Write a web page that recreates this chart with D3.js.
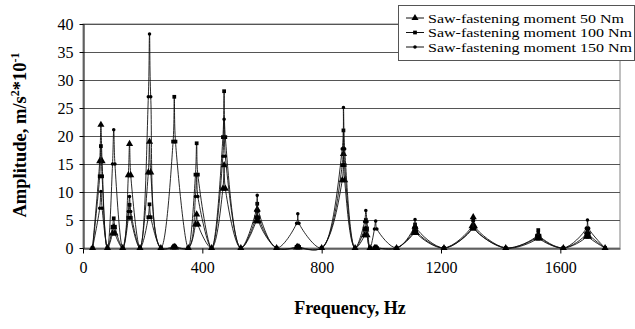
<!DOCTYPE html>
<html>
<head>
<meta charset="utf-8">
<script src="https://cdn.jsdelivr.net/npm/d3@7"></script>
<style>
  body { margin: 0; background: #fff; }
  text { font-family: "Liberation Serif", "Times New Roman", serif; }
</style>
</head>
<body>
<div id="chart"></div>
<script>
// frequencies (Hz) of every sampled point, shared by all three series
const freqs = [32,
  56, 60, 64, 82, 99, 103, 107, 133, 152, 156, 160, 191,
  219, 223, 227, 261, 302, 306, 310, 353, 377, 381, 385, 431,
  469, 473, 477, 529, 580, 584, 588, 649, 716, 720, 724, 800,
  869, 873, 877, 912, 944, 948, 952, 962, 977, 981, 985, 1051,
  1109, 1113, 1117, 1210, 1304, 1308, 1312, 1417, 1522, 1526, 1530, 1610,
  1687, 1691, 1695, 1750];

// amplitudes, m/s^2*10^-1
const moment50 = [0,
  15.5, 22, 15.5, 0, 2.6, 3.7, 2.6, 0, 13, 18.6, 13, 0,
  13.5, 19, 13.5, 0, 0.1, 0.2, 0.1, 0, 4.2, 6, 4.2, 0,
  10.6, 14.8, 10.6, 0, 4.8, 6.9, 4.8, 0, 0.1, 0.2, 0.1, 0,
  12.1, 16.8, 12.1, 0, 2.3, 3.3, 2.3, 0, 0, 0, 0, 0,
  2.7, 3.8, 2.7, 0, 3.9, 5.5, 3.9, 0, 1.7, 2.4, 1.7, 0,
  2, 2.9, 2, 0];

const moment100 = [0,
  12.8, 18.2, 12.8, 0, 3.8, 5.3, 3.8, 0, 5.4, 7.7, 5.4, 0,
  5.5, 7.8, 5.5, 0, 19, 27, 19, 0, 13.1, 18.7, 13.1, 0,
  19.8, 28, 19.8, 0, 5.5, 7.9, 5.5, 0, 0.2, 0.3, 0.2, 0,
  14.8, 21, 14.8, 0, 3.5, 5, 3.5, 0, 0, 0, 0, 0,
  3, 4.2, 3, 0, 3.5, 5, 3.5, 0, 2.2, 3.2, 2.2, 0,
  2.5, 3.5, 2.5, 0];

const moment150 = [0,
  7.1, 10.1, 7.1, 0, 15, 21.1, 15, 0, 6.5, 9.2, 6.5, 0,
  27, 38.2, 27, 0, 0.3, 0.4, 0.3, 0, 9.2, 13.1, 9.2, 0,
  16.4, 23, 16.4, 0, 6.6, 9.4, 6.6, 0, 4.4, 6.1, 4.4, 0,
  17.7, 25.1, 17.7, 0, 4.7, 6.7, 4.7, 0, 3.4, 4.8, 3.4, 0,
  3.6, 5.1, 3.6, 0, 3.4, 4.8, 3.4, 0, 2, 2.8, 2, 0,
  3.5, 5, 3.5, 0];

const seriesNames = ["Saw-fastening moment 50 Nm", "Saw-fastening moment 100 Nm", "Saw-fastening moment 150 Nm"];
const xTicks = [0, 400, 800, 1200, 1600];
const yTicks = [0, 5, 10, 15, 20, 25, 30, 35, 40];

const W = 635, H = 329;
const margin = { top: 24, right: 15, bottom: 81, left: 83 };
const width = W - margin.left - margin.right;
const height = H - margin.top - margin.bottom;
const serif = '"Liberation Serif", "Times New Roman", serif';

const svg = d3.select("#chart").append("svg")
  .attr("width", W).attr("height", H);

const x = d3.scaleLinear().domain([0, 1800]).range([margin.left, margin.left + width]);
const y = d3.scaleLinear().domain([0, 40]).range([margin.top + height, margin.top]);

// plot frame + grid
svg.append("rect")
  .attr("x", margin.left).attr("y", margin.top)
  .attr("width", width).attr("height", height)
  .attr("fill", "none").attr("stroke", "#808080");

svg.append("g")
  .selectAll("line")
  .data(yTicks.slice(1))
  .join("line")
  .attr("x1", margin.left).attr("x2", margin.left + width)
  .attr("y1", d => y(d) + 0.5).attr("y2", d => y(d) + 0.5)
  .attr("stroke", "#555").attr("stroke-width", 1);

// axes
const gy = svg.append("g")
  .attr("transform", `translate(${margin.left + 0.5},0)`)
  .call(d3.axisLeft(y).tickValues(yTicks).tickFormat(d3.format("d"))
    .tickSize(4).tickSizeOuter(0).tickPadding(6));
const gx = svg.append("g")
  .attr("transform", `translate(0,${margin.top + height + 0.5})`)
  .call(d3.axisBottom(x).tickValues(xTicks).tickFormat(d3.format("d"))
    .tickSize(5).tickSizeOuter(0).tickPadding(8));

[gx, gy].forEach(g => {
  g.attr("font-family", serif).attr("font-size", 16);
  g.select(".domain").attr("stroke", "#000");
  g.selectAll(".tick line").attr("stroke", "#000");
  g.selectAll(".tick text")
    .attr("fill", "#000")
    .style("font-size", "16px")
    .style("font-family", serif);
});

// series
const series = [
  { name: seriesNames[0], values: moment50, symbol: d3.symbolTriangle, size: 22 },
  { name: seriesNames[1], values: moment100, symbol: d3.symbolSquare, size: 14 },
  { name: seriesNames[2], values: moment150, symbol: d3.symbolCircle, size: 10 }
];

const line = d3.line()
  .x(d => x(d[0]))
  .y(d => y(d[1]))
  .curve(d3.curveCatmullRom.alpha(0.5));

series.forEach(s => {
  const pts = freqs.map((f, i) => [f, s.values[i]]);
  svg.append("path")
    .datum(pts)
    .attr("d", line)
    .attr("fill", "none")
    .attr("stroke", "#111")
    .attr("stroke-width", 0.9);
  svg.append("g")
    .selectAll("path")
    .data(pts)
    .join("path")
    .attr("transform", d => `translate(${x(d[0])},${y(d[1])})`)
    .attr("d", d3.symbol().type(s.symbol).size(s.size))
    .attr("fill", "#000");
});

// axis titles
svg.append("text")
  .attr("x", 350).attr("y", 314)
  .attr("text-anchor", "middle")
  .style("font-size", "18px").style("font-weight", "bold")
  .text("Frequency, Hz");

const yt = svg.append("text")
  .attr("transform", "translate(26,135) rotate(-90)")
  .attr("text-anchor", "middle")
  .style("font-size", "18.5px").style("font-weight", "bold");
yt.append("tspan").text("Amplitude, m/s");
yt.append("tspan").attr("dy", -7).style("font-size", "12px").text("2");
yt.append("tspan").attr("dy", 7).text("*10");
yt.append("tspan").attr("dy", -7).style("font-size", "12px").text("-1");

// legend
const lg = svg.append("g");
lg.append("rect")
  .attr("x", 398.5).attr("y", 5.5)
  .attr("width", 236).attr("height", 55)
  .attr("fill", "#fff").attr("stroke", "#555");

series.forEach((s, i) => {
  const cy = 18 + i * 14.5;
  lg.append("line")
    .attr("x1", 406).attr("x2", 424)
    .attr("y1", cy).attr("y2", cy)
    .attr("stroke", "#111");
  lg.append("path")
    .attr("transform", `translate(415,${cy})`)
    .attr("d", d3.symbol().type(s.symbol).size(s.size))
    .attr("fill", "#000");
  lg.append("text")
    .attr("x", 428).attr("y", cy + 4.5)
    .attr("textLength", i === 0 ? 196 : 204)
    .attr("lengthAdjust", "spacingAndGlyphs")
    .style("font-size", "13.5px")
    .text(s.name);
});
</script>
</body>
</html>
